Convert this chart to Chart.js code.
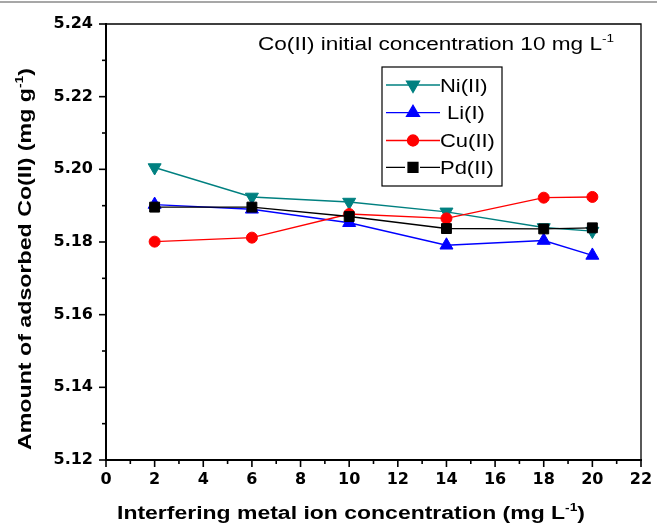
<!DOCTYPE html>
<html>
<head>
<meta charset="utf-8">
<script src="https://cdn.jsdelivr.net/npm/chart.js@4/dist/chart.umd.min.js"></script>
<style>
  html, body { margin: 0; padding: 0; background: #fff; }
  #wrap { width: 657px; height: 526px; position: relative; }
</style>
</head>
<body>
<div id="wrap"><canvas id="c" width="657" height="526"></canvas></div>
<script>
// ---- data ----
const concentrations = [2, 6, 10, 14, 18, 20];
const niValues = [5.2005, 5.1924, 5.1910, 5.1883, 5.1840, 5.1830];
const liValues = [5.1903, 5.1890, 5.1853, 5.1791, 5.1804, 5.1763];
const cuValues = [5.1801, 5.1812, 5.1877, 5.1865, 5.1922, 5.1924];
const pdValues = [5.1896, 5.1896, 5.1870, 5.1837, 5.1836, 5.1839];
const seriesNames = ['Ni(II)', 'Li(I)', 'Cu(II)', 'Pd(II)'];
const xTitle = 'Interfering metal ion concentration (mg L';
const yTitle = 'Amount of adsorbed Co(II) (mg g';
const noteText = 'Co(II) initial concentration 10 mg L';

const toPoints = vals => concentrations.map((x, i) => ({ x: x, y: vals[i] }));

const styles = [
  { color: '#008080', pointStyle: 'triangle', rotation: 180, radius: 7.5, order: 3 },
  { color: '#0000FF', pointStyle: 'triangle', rotation: 0, radius: 7.5, order: 2 },
  { color: '#FF0000', pointStyle: 'circle', rotation: 0, radius: 5.5, order: 1 },
  { color: '#000000', pointStyle: 'rect', rotation: 0, radius: 7, order: 0 }
];
const allValues = [niValues, liValues, cuValues, pdValues];

const datasets = allValues.map((vals, i) => ({
  label: seriesNames[i],
  data: toPoints(vals),
  borderColor: styles[i].color,
  backgroundColor: styles[i].color,
  pointBackgroundColor: styles[i].color,
  pointBorderColor: styles[i].color,
  pointStyle: styles[i].pointStyle,
  rotation: styles[i].rotation,
  pointRadius: styles[i].radius,
  pointBorderWidth: 1,
  borderWidth: 1.4,
  tension: 0,
  order: styles[i].order
}));

// rich text helper: parts [{t, sup}], stretched to a target width or by a factor
function richWidth(ctx, parts, size, weight, family) {
  let w = 0;
  parts.forEach(p => {
    ctx.font = weight + ' ' + (p.sup ? size * 0.6 : size) + 'px ' + family;
    w += ctx.measureText(p.t).width;
  });
  return w;
}
function drawRich(ctx, parts, x, y, size, weight, family, targetW, factor) {
  const w = richWidth(ctx, parts, size, weight, family);
  const sx = targetW ? targetW / w : (factor || 1);
  ctx.save();
  ctx.translate(x, y);
  ctx.scale(sx, 1);
  let cx = 0;
  ctx.textBaseline = 'alphabetic';
  ctx.textAlign = 'left';
  parts.forEach(p => {
    const s = p.sup ? size * 0.6 : size;
    ctx.font = weight + ' ' + s + 'px ' + family;
    ctx.fillText(p.t, cx, p.sup ? -size * 0.45 : 0);
    cx += ctx.measureText(p.t).width;
  });
  ctx.restore();
}

const decor = {
  id: 'decor',
  afterDraw(chart) {
    const ctx = chart.ctx;
    const xs = chart.scales.x, ys = chart.scales.y;
    const a = chart.chartArea;
    ctx.save();
    ctx.fillStyle = '#000';
    ctx.strokeStyle = '#000';

    // gray line at top of picture
    ctx.strokeStyle = '#8a8a8a';
    ctx.lineWidth = 1.5;
    ctx.beginPath(); ctx.moveTo(0, 2); ctx.lineTo(657, 2); ctx.stroke();

    // frame top & right
    ctx.strokeStyle = '#000';
    ctx.lineWidth = 1.3;
    ctx.beginPath();
    ctx.moveTo(a.left, a.top); ctx.lineTo(a.right, a.top); ctx.lineTo(a.right, a.bottom);
    ctx.stroke();

    // tick marks
    ctx.lineWidth = 1.6;
    for (let i = 0; i <= 22; i++) {
      const px = xs.getPixelForValue(i);
      const len = (i % 2 === 0) ? 7 : 4;
      ctx.beginPath(); ctx.moveTo(px, a.bottom); ctx.lineTo(px, a.bottom + len); ctx.stroke();
    }
    for (let i = 0; i <= 12; i++) {
      const v = 5.12 + i * 0.01;
      const py = ys.getPixelForValue(v);
      const len = (i % 2 === 0) ? 7 : 4;
      ctx.beginPath(); ctx.moveTo(a.left, py); ctx.lineTo(a.left - len, py); ctx.stroke();
    }

    const fam = '"Liberation Sans", Arial, sans-serif';
    ctx.fillStyle = '#000';
    // annotation
    drawRich(ctx, [{ t: noteText }, { t: '-1', sup: true }], 258, 50, 18, 'normal', fam, 356);

    // x title
    drawRich(ctx, [{ t: xTitle }, { t: '-1', sup: true }, { t: ')' }], 117, 519, 18, 'bold', fam, 468);

    // y title (rotated)
    ctx.save();
    ctx.translate(31, 450);
    ctx.rotate(-Math.PI / 2);
    drawRich(ctx, [{ t: yTitle }, { t: '-1', sup: true }, { t: ')' }], 0, 0, 18, 'bold', fam, 382);
    ctx.restore();

    // legend
    const lx = 382, ly = 67, lw = 120, lh = 119;
    ctx.fillStyle = '#fff';
    ctx.fillRect(lx, ly, lw, lh);
    ctx.strokeStyle = '#000';
    ctx.lineWidth = 1.2;
    ctx.strokeRect(lx, ly, lw, lh);
    const rowY = [85, 112.7, 140.5, 167.3];
    chart.data.datasets.forEach((ds, i) => {
      const y = rowY[i];
      ctx.strokeStyle = ds.borderColor;
      ctx.lineWidth = 1.3;
      ctx.beginPath();
      if (i === 3) {
        ctx.moveTo(386, y); ctx.lineTo(405, y);
        ctx.moveTo(420, y); ctx.lineTo(440, y);
      } else {
        ctx.moveTo(386, y); ctx.lineTo(440, y);
      }
      ctx.stroke();
      ctx.fillStyle = ds.pointBackgroundColor;
      ctx.strokeStyle = ds.pointBorderColor;
      Chart.helpers.drawPoint(ctx, {
        pointStyle: ds.pointStyle,
        rotation: ds.rotation,
        radius: ds.pointRadius,
        borderWidth: 1
      }, 413, y);
      ctx.fillStyle = '#000';
      const tx = (i === 1) ? 447 : 440;
      drawRich(ctx, [{ t: ds.label }], tx, y + 6.5, 18, 'normal', fam, null, 1.22);
    });
    ctx.restore();
  }
};

const tickFont = { family: '"DejaVu Sans", sans-serif', size: 16, weight: 'bold' };

new Chart(document.getElementById('c'), {
  type: 'line',
  data: { datasets: datasets },
  options: {
    responsive: false,
    animation: false,
    devicePixelRatio: 1,
    layout: { padding: { left: 0, top: 24, right: 16, bottom: 0 } },
    plugins: { legend: { display: false }, tooltip: { enabled: false }, title: { display: false } },
    scales: {
      x: {
        type: 'linear',
        min: 0, max: 22,
        ticks: { stepSize: 2, color: '#000', font: tickFont, padding: 10, maxRotation: 0 },
        grid: { display: true, drawOnChartArea: false, drawTicks: false },
        border: { display: true, color: '#000', width: 2 },
        afterFit: s => { s.height = 66; s.paddingLeft = 0; s.paddingRight = 0; }
      },
      y: {
        type: 'linear',
        min: 5.12, max: 5.24,
        ticks: { stepSize: 0.02, color: '#000', font: tickFont, padding: 13,
                 callback: v => Number(v).toFixed(2) },
        grid: { display: true, drawOnChartArea: false, drawTicks: false },
        border: { display: true, color: '#000', width: 2 },
        afterFit: s => { s.width = 106; s.paddingTop = 0; s.paddingBottom = 0; }
      }
    }
  },
  plugins: [decor]
});
</script>
</body>
</html>
